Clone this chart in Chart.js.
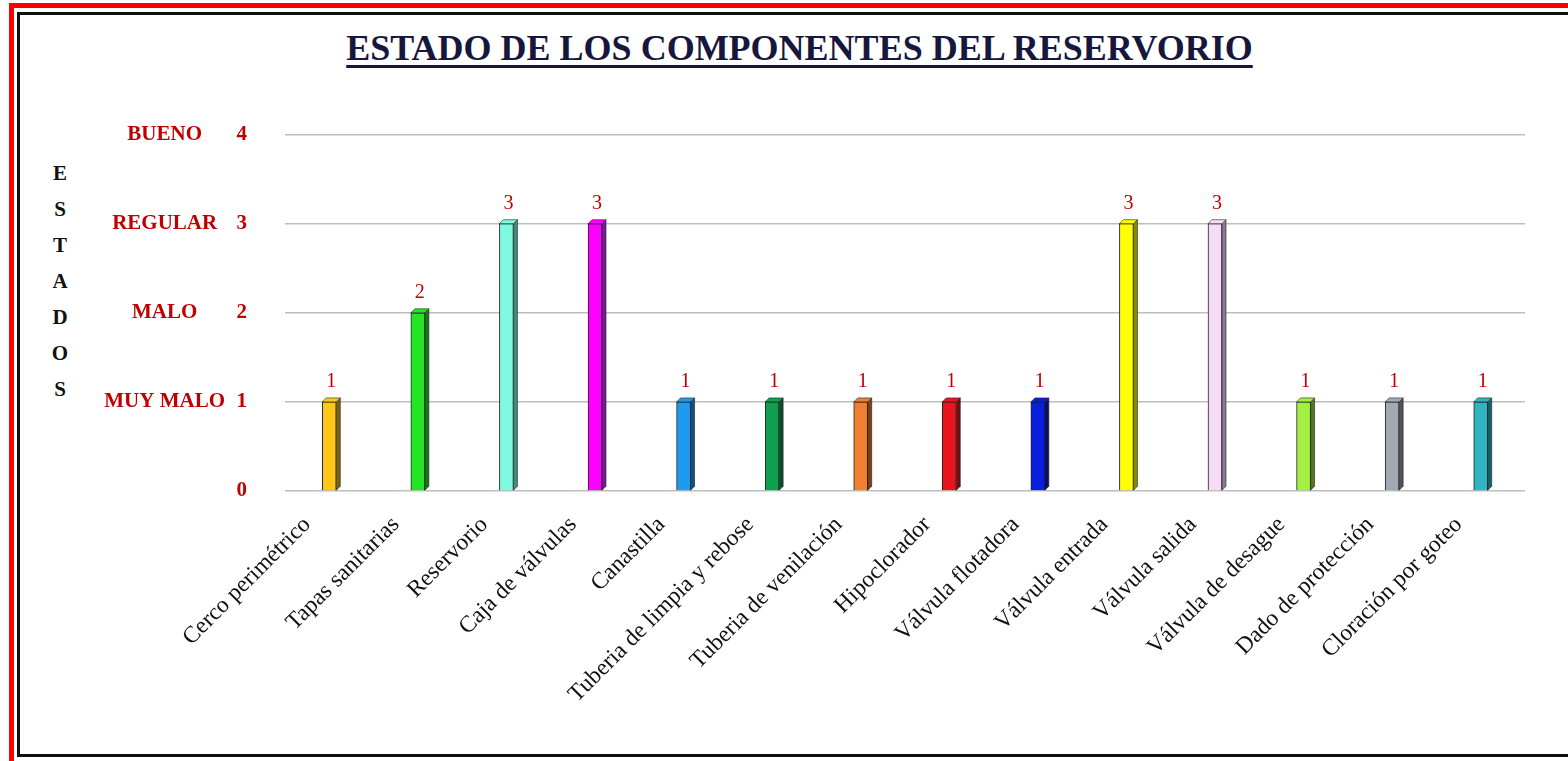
<!DOCTYPE html>
<html>
<head>
<meta charset="utf-8">
<title>Estado de los componentes del reservorio</title>
<script src="https://cdn.jsdelivr.net/npm/chart.js@4.4.1/dist/chart.umd.min.js"></script>
<style>
  html, body { margin: 0; padding: 0; background: #fff; overflow: hidden; }
  body { width: 1568px; height: 761px; position: relative; font-family: "Liberation Serif", "Times New Roman", serif; }
  #marcoRojo { position: absolute; left: 9px; top: 3px; width: 1600px; height: 800px; border: 5px solid #ff0000; box-sizing: border-box; }
  #marcoNegro { position: absolute; left: 17px; top: 12px; width: 1600px; height: 745px; border: 3px solid #111; box-sizing: border-box; }
  #titulo { position: absolute; left: 0; top: 27px; width: 1599px; text-align: center; font-weight: bold; font-size: 36px; color: #17173d; text-decoration: underline; text-decoration-thickness: 3px; text-underline-offset: 5px; margin: 0; }
  #ejeY { position: absolute; left: 45px; top: 155px; width: 30px; text-align: center; font-weight: bold; font-size: 21px; line-height: 36px; color: #111; }
  #grafico { position: absolute; left: 20px; top: 84px; width: 1535px; height: 658px; }
</style>
</head>
<body>
<div id="marcoRojo"></div>
<div id="marcoNegro"></div>
<h1 id="titulo">ESTADO DE LOS COMPONENTES DEL RESERVORIO</h1>
<div id="ejeY">E<br>S<br>T<br>A<br>D<br>O<br>S</div>
<div id="grafico"><canvas id="barras"></canvas></div>
<script>
  'use strict'
  // datos
  const componentes = ['Cerco perimétrico', 'Tapas sanitarias', 'Reservorio', 'Caja de válvulas', 'Canastilla',
    'Tuberia de limpia y rebose', 'Tuberia de venilación', 'Hipoclorador', 'Válvula flotadora', 'Válvula entrada',
    'Válvula salida', 'Válvula de desague', 'Dado de protección', 'Cloración por goteo'];
  const estados = [1, 2, 3, 3, 1, 1, 1, 1, 1, 3, 3, 1, 1, 1];
  const nombresEstado = ['', 'MUY MALO', 'MALO', 'REGULAR', 'BUENO'];

  // colores (cara y lateral de cada barra)
  const colores = ['#ffc819', '#22e622', '#7ffae0', '#ff00ff', '#1e9bf0', '#0e9f4f', '#f08030',
    '#e8141e', '#0a1ee0', '#ffff00', '#f7dcf8', '#a4f040', '#a2a9b4', '#30b4c0'];
  const lados = ['#7a6410', '#127a12', '#3c8c80', '#7a1a9a', '#11507c', '#07502a', '#7c4018',
    '#780a10', '#050f70', '#8a8a00', '#8a7a9a', '#527820', '#4c5460', '#186068'];

  const rojo = '#c00000';
  const serif = '"Liberation Serif", "Times New Roman", serif';

  // barras con lateral y tapa, para el efecto 3D
  const barras3D = {
    id: 'barras3D',
    afterDatasetsDraw(chart) {
      const ctx = chart.ctx;
      const d = 4;
      chart.getDatasetMeta(0).data.forEach((bar, i) => {
        const r = bar.x + bar.width / 2;
        const l = bar.x - bar.width / 2;
        ctx.save();
        ctx.fillStyle = lados[i];
        ctx.strokeStyle = '#222';
        ctx.lineWidth = 0.6;
        ctx.beginPath();
        ctx.moveTo(r, bar.y);
        ctx.lineTo(r + d, bar.y - d);
        ctx.lineTo(r + d, bar.base - d);
        ctx.lineTo(r, bar.base);
        ctx.closePath();
        ctx.fill();
        ctx.stroke();
        ctx.fillStyle = colores[i];
        ctx.beginPath();
        ctx.moveTo(l, bar.y);
        ctx.lineTo(l + d, bar.y - d);
        ctx.lineTo(r + d, bar.y - d);
        ctx.lineTo(r, bar.y);
        ctx.closePath();
        ctx.fill();
        ctx.stroke();
        ctx.restore();
      });
    }
  };

  // etiquetas de valor encima de cada barra
  const etiquetasValor = {
    id: 'etiquetasValor',
    afterDatasetsDraw(chart) {
      const ctx = chart.ctx;
      ctx.save();
      ctx.font = '20px ' + serif;
      ctx.fillStyle = rojo;
      ctx.textAlign = 'center';
      ctx.textBaseline = 'bottom';
      chart.getDatasetMeta(0).data.forEach((bar, i) => {
        ctx.fillText(String(estados[i]), bar.x + 2, bar.y - 10);
      });
      ctx.restore();
    }
  };

  new Chart(document.getElementById('barras'), {
    type: 'bar',
    data: {
      labels: componentes,
      datasets: [{
        data: estados,
        backgroundColor: colores,
        borderColor: '#222',
        borderWidth: 1,
        barThickness: 14
      }]
    },
    options: {
      responsive: true,
      maintainAspectRatio: false,
      animation: false,
      layout: { padding: { left: 70, top: 18, right: 30, bottom: 0 } },
      plugins: {
        legend: { display: false },
        tooltip: { enabled: false }
      },
      scales: {
        x: {
          grid: { display: false },
          border: { display: false },
          ticks: {
            autoSkip: false,
            minRotation: 45,
            maxRotation: 45,
            labelOffset: -22,
            padding: 12,
            color: '#111',
            font: { family: serif, size: 23.5 }
          },
          afterFit(scale) { scale.height = 251; }
        },
        y: {
          position: 'left',
          min: 0,
          max: 4,
          weight: 0,
          grid: { color: '#bdbdbd', lineWidth: 1.5, drawTicks: false },
          border: { display: false },
          ticks: {
            stepSize: 1,
            padding: 38,
            color: rojo,
            font: { family: serif, size: 21, weight: 'bold' }
          },
          afterFit(scale) { scale.width = 49; }
        },
        nombres: {
          position: 'left',
          min: 0,
          max: 4,
          weight: 1,
          grid: { display: false, drawTicks: false },
          border: { display: false },
          ticks: {
            stepSize: 1,
            padding: 11,
            crossAlign: 'center',
            color: rojo,
            font: { family: serif, size: 21, weight: 'bold' },
            callback: (v) => nombresEstado[v]
          },
          afterFit(scale) { scale.width = 146; }
        }
      }
    },
    plugins: [barras3D, etiquetasValor]
  });
</script>
</body>
</html>
